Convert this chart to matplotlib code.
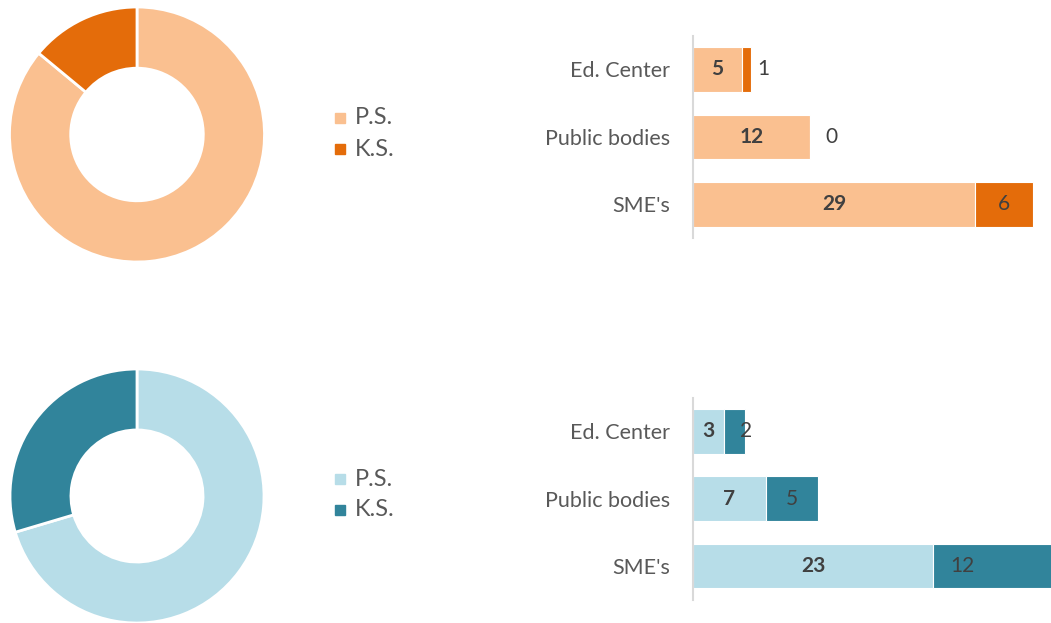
import matplotlib
matplotlib.use("Agg")
import matplotlib.pyplot as plt

W, H = 1051, 623
plt.rcParams['font.family'] = ['Lato', 'DejaVu Sans']

categories = ["Ed. Center", "Public bodies", "SME's"]
series_names = ["P.S.", "K.S."]

top_ps = [5, 12, 29]
top_ks = [1, 0, 6]
bot_ps = [3, 7, 23]
bot_ks = [2, 5, 12]

top_donut = [86, 14]
bot_donut = [70.4, 29.6]

top_colors = ["#FAC090", "#E46C0A"]
bot_colors = ["#B7DDE8", "#31849B"]
text_dark = "#404040"
text_gray = "#595959"

fig = plt.figure(figsize=(W / 100, H / 100), dpi=100)


def px_rect(x0, y0, x1, y1):
    return [x0 / W, 1 - y1 / H, (x1 - x0) / W, (y1 - y0) / H]


def donut(cx, cy, r, vals, colors, leg_x, leg_y):
    ax = fig.add_axes(px_rect(cx - r, cy - r, cx + r, cy + r))
    ax.pie(vals, colors=colors, startangle=90, counterclock=False, radius=1,
           wedgeprops=dict(width=0.48, edgecolor="white", linewidth=2))
    ax.set_xlim(-1, 1)
    ax.set_ylim(-1, 1)
    ax.axis("off")
    for i, (name, c) in enumerate(zip(series_names, colors)):
        y = leg_y + i * 31
        fig.patches.append(plt.Rectangle(((leg_x) / W, 1 - (y + 5) / H), 10 / W, 10 / H,
                                         transform=fig.transFigure, color=c, figure=fig))
        fig.text((leg_x + 20) / W, 1 - y / H, name, ha="left", va="center",
                 fontsize=17, color=text_gray)


def bars(x0, ytop, ybot, xmax, ps, ks, colors, ks_dx):
    ax = fig.add_axes(px_rect(x0, ytop, W, ybot))
    y = list(range(len(categories)))
    ax.barh(y, ps, height=0.66, color=colors[0], edgecolor="white", linewidth=0.8)
    ax.barh(y, ks, left=ps, height=0.66, color=colors[1], edgecolor="white", linewidth=0.8)
    ax.set_ylim(2.5, -0.5)
    ax.set_xlim(0, xmax)
    ax.set_yticks(y)
    ax.set_yticklabels(categories, fontsize=15.5, color=text_gray)
    ax.tick_params(axis="y", length=0, pad=16.5)
    ax.set_xticks([])
    for s in ["top", "right", "bottom"]:
        ax.spines[s].set_visible(False)
    ax.spines["left"].set_color("#D9D9D9")
    ax.spines["left"].set_linewidth(1.5)
    for i in y:
        ax.text(ps[i] / 2, i, str(ps[i]), ha="center", va="center",
                fontsize=15, fontweight="bold", color=text_dark)
        ax.annotate(str(ks[i]), (ps[i] + ks[i] / 2, i), xytext=(ks_dx[i] * 0.72, 0),
                    textcoords="offset points", ha="center", va="center",
                    fontsize=15, color=text_dark)
    return ax


donut(137, 134.5, 127.5, top_donut, top_colors, 335, 118)
donut(137, 496, 127, bot_donut, bot_colors, 335, 479)
bars(693, 35.75, 238.25, 36.8, top_ps, top_ks, top_colors, [17, 22, 0])
bars(693, 397.6, 599.7, 34.3, bot_ps, bot_ks, bot_colors, [11, 0, -33])

fig.savefig("out.png", dpi=100)
